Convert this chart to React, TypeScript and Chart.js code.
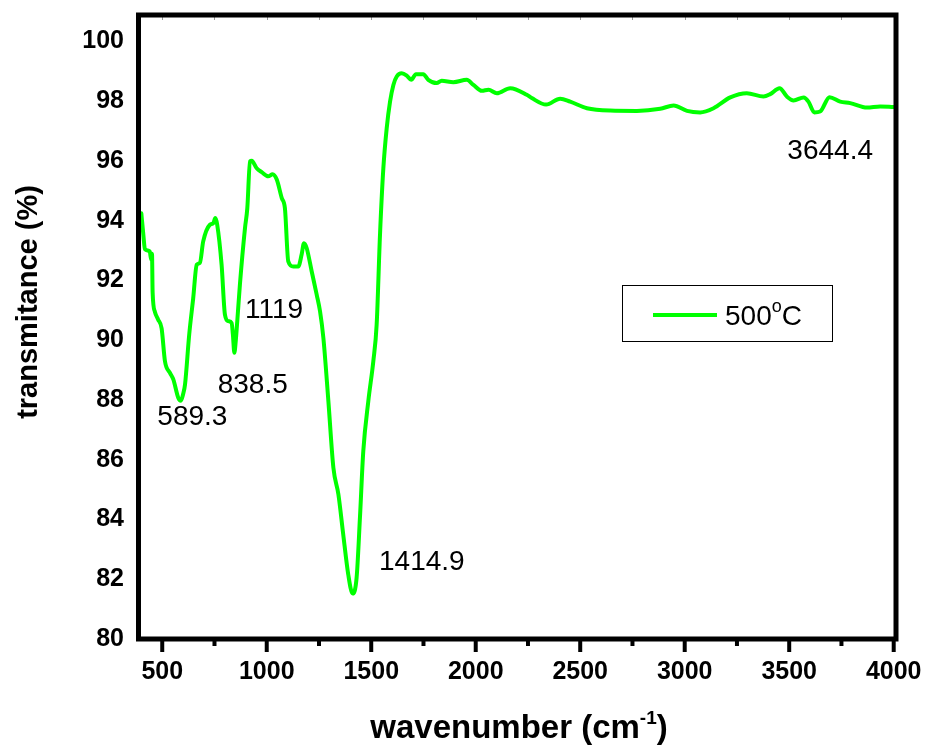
import { useEffect, useRef } from 'react';
import { Chart, registerables } from 'chart.js';

Chart.register(...registerables);

const WAVENUMBER = [
  400, 410, 417, 440, 447, 451, 454, 465, 480, 497, 513, 537, 553, 577, 589, 600, 609, 629, 648, 665,
  680, 696, 728, 744, 754, 763, 784, 800, 816, 832, 838, 845, 852, 859, 872, 896, 907, 920, 928, 952,
  976, 1007, 1028, 1048, 1072, 1087, 1103, 1127, 1151, 1167, 1178, 1191, 1215, 1239, 1255, 1271, 1295,
  1319, 1343, 1366, 1390, 1411, 1430, 1446, 1462, 1486, 1510, 1526, 1542, 1558, 1574, 1590, 1606, 1622,
  1646, 1670, 1691, 1714, 1749, 1773, 1813, 1837, 1893, 1957, 1989, 2029, 2061, 2101, 2165, 2244, 2268,
  2337, 2404, 2452, 2532, 2643, 2771, 2883, 2947, 3011, 3074, 3138, 3218, 3297, 3377, 3409, 3454, 3489,
  3521, 3569, 3592, 3620, 3648, 3693, 3744, 3792, 3872, 3935, 3999,
];
const TRANSMITTANCE = [
  94.25, 93.5, 93.05, 92.98, 92.7, 92.9, 91.6, 90.95, 90.7, 90.4, 89.3, 88.91, 88.69, 88.07, 87.98, 88.2,
  88.52, 90.19, 91.4, 92.53, 92.59, 93.31, 93.87, 93.92, 94.09, 93.87, 92.53, 90.86, 90.64, 90.58, 90.2,
  89.58, 90.0, 90.64, 91.9, 93.76, 94.42, 95.99, 96.01, 95.76, 95.63, 95.49, 95.56, 95.38, 94.76, 94.42,
  92.64, 92.47, 92.47, 92.87, 93.25, 93.09, 92.31, 91.53, 90.97, 90.08, 87.96, 85.73, 84.84, 83.5, 82.16,
  81.52, 82.05, 84.06, 86.29, 87.96, 89.3, 90.53, 93.54, 95.76, 97.1, 97.99, 98.55, 98.83, 98.94, 98.86,
  98.72, 98.91, 98.91, 98.72, 98.61, 98.69, 98.64, 98.72, 98.55, 98.35, 98.39, 98.27, 98.44, 98.22, 98.11,
  97.89, 98.09, 97.99, 97.77, 97.69, 97.68, 97.75, 97.86, 97.68, 97.63, 97.77, 98.13, 98.27, 98.16, 98.24,
  98.44, 98.16, 98.03, 98.13, 97.99, 97.63, 97.66, 98.14, 97.99, 97.94, 97.79, 97.83, 97.81,
];

const X_MAJOR_TICKS = [500, 1000, 1500, 2000, 2500, 3000, 3500, 4000];
const X_MINOR_TICKS = [750, 1250, 1750, 2250, 2750, 3250, 3750];
const Y_TICKS = [80, 82, 84, 86, 88, 90, 92, 94, 96, 98, 100];

const PEAK_LABELS = ['589.3', '838.5', '1119', '1414.9', '3644.4'];
const PEAK_LABEL_X = [644, 933, 1035, 1742, 3696];
const PEAK_LABEL_Y = [87.51, 88.58, 91.07, 82.64, 96.41];

const SERIES_NAME = '500';
const SERIES_SUP = 'o';
const SERIES_UNIT = 'C';
const X_TITLE = 'wavenumber (cm';
const X_TITLE_SUP = '-1';
const X_TITLE_END = ')';
const Y_TITLE = 'transmitance (%)';

const FONT = "'Liberation Sans', Arial, sans-serif";
const GREEN = '#00ff00';

const zeroPad = (s: any) => {
  s.paddingTop = 0;
  s.paddingBottom = 0;
  s.paddingLeft = 0;
  s.paddingRight = 0;
};

const decor = {
  id: 'decor',
  afterDraw(chart: any) {
    const { ctx, chartArea: a, scales } = chart;
    const xs = scales.x;
    const ys = scales.y;
    ctx.save();

    // top inner small ticks
    ctx.strokeStyle = '#999';
    ctx.lineWidth = 1;
    [...X_MAJOR_TICKS, ...X_MINOR_TICKS].forEach((v) => {
      const px = Math.round(xs.getPixelForValue(v)) + 0.5;
      ctx.beginPath();
      ctx.moveTo(px, a.top);
      ctx.lineTo(px, a.top + 5);
      ctx.stroke();
    });

    // bottom ticks
    ctx.strokeStyle = '#000';
    ctx.lineWidth = 4;
    X_MAJOR_TICKS.forEach((v) => {
      const px = xs.getPixelForValue(v);
      ctx.beginPath();
      ctx.moveTo(px, a.bottom);
      ctx.lineTo(px, a.bottom + 13);
      ctx.stroke();
    });
    X_MINOR_TICKS.forEach((v) => {
      const px = xs.getPixelForValue(v);
      ctx.beginPath();
      ctx.moveTo(px, a.bottom);
      ctx.lineTo(px, a.bottom + 7);
      ctx.stroke();
    });

    // frame
    ctx.lineWidth = 5;
    ctx.strokeRect(a.left + 0.5, a.top, a.right - a.left - 0.5, a.bottom - a.top);

    // peak labels
    ctx.fillStyle = '#000';
    ctx.font = `28px ${FONT}`;
    ctx.textAlign = 'center';
    ctx.textBaseline = 'alphabetic';
    PEAK_LABELS.forEach((t, i) => {
      const px = xs.getPixelForValue(PEAK_LABEL_X[i]);
      const py = ys.getPixelForValue(PEAK_LABEL_Y[i]);
      ctx.fillText(t, px, py + 10);
    });

    // legend
    ctx.lineWidth = 1;
    ctx.strokeStyle = '#000';
    ctx.strokeRect(622.5, 285.5, 210, 56);
    ctx.strokeStyle = GREEN;
    ctx.lineWidth = 4;
    ctx.beginPath();
    ctx.moveTo(653, 315);
    ctx.lineTo(717, 315);
    ctx.stroke();
    ctx.textAlign = 'left';
    ctx.font = `28px ${FONT}`;
    let lx = 725;
    ctx.fillText(SERIES_NAME, lx, 325);
    lx += ctx.measureText(SERIES_NAME).width;
    ctx.font = `18px ${FONT}`;
    ctx.fillText(SERIES_SUP, lx, 312);
    lx += ctx.measureText(SERIES_SUP).width;
    ctx.font = `28px ${FONT}`;
    ctx.fillText(SERIES_UNIT, lx, 325);

    // x title
    const bigX = `bold 33px ${FONT}`;
    const supX = `bold 19px ${FONT}`;
    ctx.font = bigX;
    const w1 = ctx.measureText(X_TITLE).width;
    const w3 = ctx.measureText(X_TITLE_END).width;
    ctx.font = supX;
    const w2 = ctx.measureText(X_TITLE_SUP).width;
    let tx = 519 - (w1 + w2 + w3) / 2;
    ctx.font = bigX;
    ctx.fillText(X_TITLE, tx, 738);
    tx += w1;
    ctx.font = supX;
    ctx.fillText(X_TITLE_SUP, tx, 724);
    tx += w2;
    ctx.font = bigX;
    ctx.fillText(X_TITLE_END, tx, 738);

    // y title
    ctx.save();
    ctx.translate(37, 302);
    ctx.rotate(-Math.PI / 2);
    ctx.textAlign = 'center';
    ctx.font = `bold 29px ${FONT}`;
    ctx.fillText(Y_TITLE, 0, 0);
    ctx.restore();

    ctx.restore();
  },
};

export default function App() {
  const ref = useRef<HTMLCanvasElement | null>(null);

  useEffect(() => {
    if (!ref.current) return;
    const chart = new Chart(ref.current, {
      type: 'line',
      data: {
        datasets: [
          {
            label: '500°C',
            data: WAVENUMBER.map((x, i) => ({ x, y: TRANSMITTANCE[i] })),
            borderColor: GREEN,
            backgroundColor: GREEN,
            borderWidth: 4,
            borderJoinStyle: 'round',
            borderCapStyle: 'round',
            pointRadius: 0,
            cubicInterpolationMode: 'monotone',
            fill: false,
          },
        ],
      },
      options: {
        responsive: false,
        animation: false,
        devicePixelRatio: 1,
        layout: { padding: { top: 15, right: 31, left: 0, bottom: 0 } },
        plugins: { legend: { display: false }, tooltip: { enabled: false } },
        scales: {
          x: {
            type: 'linear',
            min: 384,
            max: 4011,
            grid: { display: false, drawTicks: false },
            border: { display: false },
            ticks: {
              font: { family: FONT, size: 25, weight: 'bold' },
              color: '#000',
              padding: 18,
              maxRotation: 0,
              autoSkip: false,
              callback: (v: any) => String(v),
            },
            afterBuildTicks: (s: any) => {
              s.ticks = X_MAJOR_TICKS.map((v) => ({ value: v }));
            },
            afterFit: (s: any) => {
              s.height = 109;
              zeroPad(s);
            },
          },
          y: {
            type: 'linear',
            min: 80,
            max: 100.89,
            grid: { display: false, drawTicks: false },
            border: { display: false },
            ticks: {
              font: { family: FONT, size: 25, weight: 'bold' },
              color: '#000',
              padding: 14,
              autoSkip: false,
              callback: (v: any) => String(v),
            },
            afterBuildTicks: (s: any) => {
              s.ticks = Y_TICKS.map((v) => ({ value: v }));
            },
            afterFit: (s: any) => {
              s.width = 138;
              zeroPad(s);
            },
          },
        },
      } as any,
      plugins: [decor],
    });
    return () => chart.destroy();
  }, []);

  return (
    <div style={{ position: 'absolute', left: 0, top: 0, width: 927, height: 748, background: '#fff' }}>
      <canvas ref={ref} width={927} height={748} style={{ display: 'block' }} />
    </div>
  );
}
